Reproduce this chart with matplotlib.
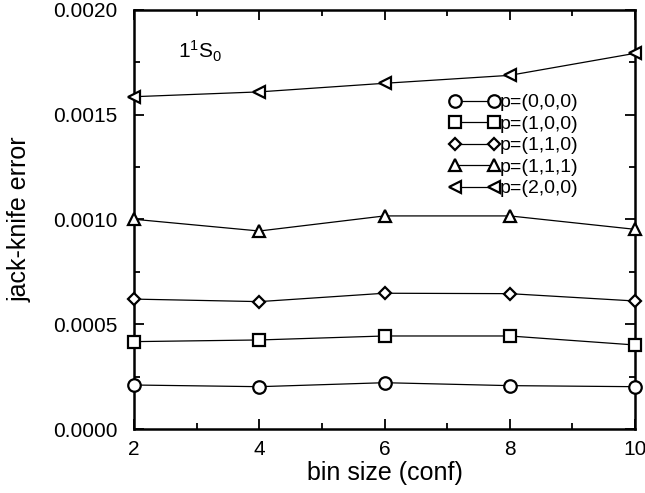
import matplotlib
matplotlib.use('Agg')
import matplotlib.pyplot as plt
from matplotlib.ticker import MultipleLocator

plt.rcParams['font.family'] = ['Liberation Sans', 'DejaVu Sans']
plt.rcParams['mathtext.fontset'] = 'custom'
plt.rcParams['mathtext.rm'] = 'Liberation Sans'
plt.rcParams['mathtext.it'] = 'Liberation Sans'
plt.rcParams['mathtext.default'] = 'regular'

bin_size = [2, 4, 6, 8, 10]
err_000 = [0.000210, 0.000202, 0.000221, 0.000207, 0.000202]
err_100 = [0.000417, 0.000425, 0.000444, 0.000444, 0.000401]
err_110 = [0.000620, 0.000608, 0.000648, 0.000646, 0.000611]
err_111 = [0.001001, 0.000945, 0.001017, 0.001017, 0.000953]
err_200 = [0.001586, 0.001609, 0.001650, 0.001688, 0.001793]

labels = ['p=(0,0,0)', 'p=(1,0,0)', 'p=(1,1,0)', 'p=(1,1,1)', 'p=(2,0,0)']
markers = ['o', 's', 'D', '^', '<']
sizes = [9, 8, 6.5, 9, 9]

fig = plt.figure(figsize=(6.45, 4.93), dpi=100)
ax = fig.add_axes([0.2078, 0.1298, 0.7767, 0.8500])

for y, lab, m, ms in zip([err_000, err_100, err_110, err_111, err_200], labels, markers, sizes):
    ax.plot(bin_size, y, color='black', lw=0.9, marker=m, ms=ms,
            mfc='white', mec='black', mew=1.6, label=lab, clip_on=False, zorder=3)

ax.set_xlim(2, 10)
ax.set_ylim(0, 0.002)
ax.xaxis.set_major_locator(MultipleLocator(2))
ax.xaxis.set_minor_locator(MultipleLocator(1))
ax.yaxis.set_major_locator(MultipleLocator(0.0005))
ax.yaxis.set_minor_locator(MultipleLocator(0.00025))
ax.yaxis.set_major_formatter(matplotlib.ticker.FormatStrFormatter('%.4f'))
ax.tick_params(which='both', direction='in', top=True, right=True, width=1.3, labelsize=15)
ax.tick_params(which='major', length=7)
ax.tick_params(axis='y', which='major', pad=12)
ax.tick_params(axis='x', which='major', pad=8)
ax.tick_params(which='minor', length=4)
for s in ax.spines.values():
    s.set_linewidth(1.8)

ax.set_xlabel('bin size (conf)', fontsize=18, labelpad=1)
ax.set_ylabel('jack-knife error', fontsize=18)
ax.yaxis.set_label_coords(-0.205, 0.5)

ax.text(0.088, 0.90, '$1^1S_0$', transform=ax.transAxes, fontsize=15, va='center', ha='left')

ax.legend(loc='upper left', bbox_to_anchor=(0.629, 0.800), frameon=False, fontsize=14,
          numpoints=2, handlelength=2.6, handletextpad=0.0, borderpad=0, borderaxespad=0,
          labelspacing=0.2)

fig.savefig('out.png', dpi=100)
